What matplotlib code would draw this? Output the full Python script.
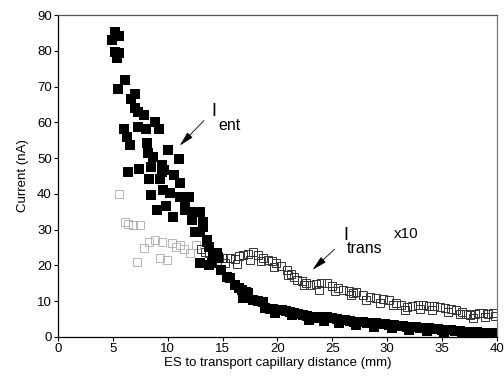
import numpy as np
from matplotlib import pyplot as plt

plt.rcParams['font.family'] = ['Liberation Sans', 'DejaVu Sans']

# I_ent (filled squares)
ent_x = [5.2, 4.9, 5.6, 5.2, 5.6, 5.4, 6.1, 5.5, 7.0, 6.7, 7.0, 7.3, 7.8, 8.8,
         6.0, 7.3, 8.0, 9.2, 6.3, 6.6, 8.1, 10.0, 8.2, 8.7, 11.0, 6.4, 7.4, 8.5,
         9.5, 9.7, 9.5, 10.6, 8.3, 9.3, 11.1, 8.5, 9.6, 10.2, 11.1, 11.9, 9.0,
         9.8, 10.5, 11.6, 11.6, 12.3, 12.9, 12.2, 13.2, 13.2, 12.5, 12.9, 13.6,
         13.6, 13.8, 14.1, 12.9, 14.0, 13.8,
         14.5, 14.6, 14.9, 15.4, 15.7, 16.1, 16.5, 16.8, 17.1, 17.3, 16.9, 17.8,
         18.2, 18.7, 18.9, 19.3, 19.6, 20.0, 20.4, 20.8, 21.1, 21.5, 21.9, 22.3,
         22.7, 23.1, 23.6, 24.0, 24.5, 25.0, 25.4, 25.8, 26.2, 26.6, 27.0, 27.4,
         27.8, 28.2, 28.6, 29.0, 29.4, 29.8, 30.2, 30.6, 31.0, 31.4, 31.8, 32.2,
         32.6, 33.0, 33.4, 33.8, 34.2, 34.6, 35.0, 35.4, 35.8, 36.2, 36.6, 37.0,
         37.4, 37.8, 38.2, 38.6, 39.0, 39.4, 39.8,
         19.8, 21.3, 22.9, 24.2, 25.6, 27.2, 28.8, 30.4, 32.0, 33.6, 35.2, 36.8,
         38.4, 39.9]
ent_y = [85.2, 83.0, 84.0, 79.7, 79.4, 78.0, 71.8, 69.3, 68.0, 66.5, 64.0, 63.0,
         62.0, 60.0, 58.0, 58.7, 58.0, 58.0, 55.8, 53.7, 54.2, 52.3, 51.5, 50.3,
         49.7, 46.2, 46.9, 47.6, 48.0, 46.6, 46.0, 45.3, 44.2, 44.2, 43.0, 39.7,
         41.0, 40.3, 39.2, 39.2, 35.5, 36.6, 33.5, 37.4, 35.5, 35.0, 35.0, 32.7,
         32.1, 30.7, 29.3, 29.3, 27.1, 26.5, 25.2, 23.5, 20.7, 20.7, 20.1,
         23.5, 22.0, 18.7, 16.8, 16.5, 14.5, 13.8, 13.1, 12.6, 12.3, 10.9, 10.3,
         10.0, 9.8, 8.1, 7.9, 7.7, 7.5, 7.4, 7.2, 7.0, 6.8, 6.5, 6.1,
         5.9, 5.7, 5.3, 5.5, 5.6, 5.2, 5.0, 4.8, 4.6, 4.5, 4.3, 4.2,
         4.1, 4.0, 3.9, 3.8, 3.7, 3.5, 3.4, 3.3, 3.1, 3.0, 2.9, 2.8,
         2.7, 2.6, 2.5, 2.4, 2.3, 2.2, 2.0, 1.9, 1.8, 1.7, 1.6, 1.5,
         1.4, 1.3, 1.3, 1.2, 1.1, 1.0, 1.0,
         6.6, 6.0, 4.8, 4.4, 3.8, 3.3, 2.9, 2.5, 2.0, 1.7, 1.2, 0.9,
         0.6, 0.5]

# I_trans x10 (open squares)
trans_x = [5.6, 6.1, 6.4, 6.8, 7.2, 7.5, 7.8, 8.3, 8.8, 9.3, 9.5, 9.9, 10.4,
           10.8, 11.1, 11.5, 12.0, 12.6, 13.0, 13.4, 13.8, 14.2, 14.6, 15.0,
           15.4, 15.7, 16.1, 16.5, 16.9, 17.3, 17.8, 18.2, 18.7, 19.1, 19.5,
           19.9, 20.3, 20.9, 21.2, 21.5, 21.8, 22.2, 22.6, 23.0, 23.5, 24.0,
           24.5, 25.0, 25.5, 26.0, 26.5, 26.9, 27.2, 27.8, 28.4, 29.0, 29.6,
           30.2, 30.8, 31.3, 31.8, 32.3, 32.8, 33.3, 33.8, 34.3, 34.8, 35.3,
           35.8, 36.3, 36.8, 37.2, 37.5, 38.0, 38.4, 38.7, 39.2, 39.6,
           15.2, 16.3, 17.5, 18.5, 19.7, 21.0, 22.4, 23.8, 25.2, 26.7, 28.1,
           29.3, 30.5, 31.6, 33.0, 34.1, 35.5, 36.6, 37.8, 38.9, 39.8]
trans_y = [40.0, 32.2, 31.5, 31.3, 21.0, 31.3, 24.9, 26.5, 27.0, 22.0, 26.6,
           21.5, 26.2, 25.2, 25.7, 24.5, 23.5, 25.7, 24.5, 23.8, 23.5, 23.0,
           22.5, 22.2, 22.0, 22.0, 21.8, 22.5, 23.0, 23.3, 23.7, 23.0, 22.0,
           21.5, 21.2, 20.7, 19.8, 18.7, 17.5, 16.8, 15.9, 15.5, 15.0, 14.5,
           14.8, 15.2, 15.0, 14.2, 13.6, 13.1, 12.8, 12.3, 12.6, 11.8, 11.2,
           11.0, 10.7, 10.3, 9.6, 9.0, 8.4, 8.7, 9.0, 8.9, 8.6, 8.5, 8.4, 8.0,
           7.8, 7.5, 7.0, 6.5, 6.1, 6.5, 6.8, 6.7, 6.5, 6.7,
           20.6, 20.5, 21.6, 21.2, 19.6, 17.2, 14.4, 13.2, 12.9, 11.7, 10.2,
           9.6, 8.9, 7.6, 7.9, 7.5, 7.0, 6.4, 5.4, 5.6, 5.8]

fig = plt.figure(figsize=(5.04, 3.76), dpi=100)
ax = fig.add_axes([0.115, 0.104, 0.871, 0.856])

tx = np.array(trans_x)
ty = np.array(trans_y)
early = tx < 13
ax.plot(tx[early], ty[early], 's', ms=5.5, mfc='none', mec='#aaaaaa', mew=0.6)
ax.plot(tx[~early], ty[~early], 's', ms=6, mfc='none', mec='#333333', mew=0.7)
ax.plot(ent_x, ent_y, 's', ms=6.5, color='black', mew=0)

ax.set_xlim(0, 40)
ax.set_ylim(0, 90)
ax.set_xticks(range(0, 41, 5))
ax.set_yticks(range(0, 91, 10))
ax.tick_params(direction='out', length=3, width=0.8, labelsize=9.5, pad=1.5)
for s in ax.spines.values():
    s.set_linewidth(0.9)
ax.spines['top'].set_color('#555555')
ax.spines['right'].set_color('#777777')
ax.set_xlabel('ES to transport capillary distance (mm)', fontsize=9.5, labelpad=1)
ax.set_ylabel('Current (nA)', fontsize=9.5, labelpad=6)

arrow = dict(arrowstyle='-|>,head_length=0.9,head_width=0.22', color='black',
             lw=0.6, shrinkA=0, shrinkB=0)
ax.annotate('', xy=(11.1, 53.5), xytext=(13.3, 60.5), arrowprops=arrow)
ax.text(14.0, 63, 'I', fontsize=13, ha='left', va='center')
ax.text(14.6, 59.0, 'ent', fontsize=11.5, ha='left', va='center')

ax.annotate('', xy=(23.2, 18.8), xytext=(25.2, 24.5), arrowprops=arrow)
ax.text(26.0, 28.3, 'I', fontsize=13, ha='left', va='center')
ax.text(26.3, 24.8, 'trans', fontsize=11.5, ha='left', va='center')
ax.text(30.6, 28.8, 'x10', fontsize=11, ha='left', va='center')

fig.savefig('out.png', dpi=100)
